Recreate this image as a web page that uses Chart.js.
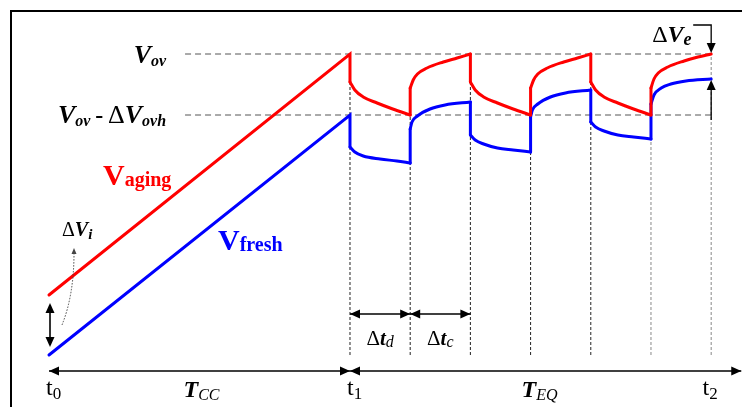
<!DOCTYPE html>
<html>
<head>
<meta charset="utf-8">
<script src="https://cdn.jsdelivr.net/npm/chart.js@4.4.0/dist/chart.umd.min.js"></script>
<style>
  html, body { margin: 0; padding: 0; background: #fff; }
  #wrap { width: 742px; height: 407px; position: relative; }
</style>
</head>
<body>
<div id="wrap"><canvas id="chart"></canvas></div>
<script>
// time marks: t0, t1, then one mark per dt_d / dt_c half-cycle up to t2
var tMarks = [0, 5, 6, 7, 8, 9, 10, 11];
var vOv = 3.01;   // V_ov
var vOvh = 2.40;  // V_ov - dV_ovh

// aging cell voltage: CC ramp then discharge / charge pulses
var agingRamp = [[0, 0.60], [5, 3.01]];
var agingCurves = [
  [[5, 2.73], [5.08, 2.65], [5.22, 2.58], [5.45, 2.52], [5.71, 2.46], [6, 2.40]],
  [[6, 2.67], [6.05, 2.75], [6.12, 2.81], [6.28, 2.87], [6.55, 2.93], [6.78, 2.97], [7, 3.01]],
  [[7, 2.73], [7.08, 2.65], [7.22, 2.58], [7.45, 2.52], [7.71, 2.46], [8, 2.40]],
  [[8, 2.67], [8.05, 2.75], [8.12, 2.81], [8.28, 2.87], [8.55, 2.93], [8.78, 2.97], [9, 3.01]],
  [[9, 2.73], [9.08, 2.65], [9.22, 2.58], [9.45, 2.52], [9.71, 2.46], [10, 2.40]],
  [[10, 2.67], [10.05, 2.76], [10.12, 2.82], [10.28, 2.88], [10.55, 2.94], [10.78, 2.98], [11, 3.01]]
];

// fresh cell voltage
var freshRamp = [[0, 0.00], [5, 2.40]];
var freshCurves = [
  [[5, 2.08], [5.08, 2.03], [5.22, 1.99], [5.5, 1.96], [5.78, 1.94], [6, 1.92]],
  [[6, 2.26], [6.03, 2.33], [6.12, 2.39], [6.33, 2.46], [6.58, 2.50], [7, 2.53]],
  [[7, 2.20], [7.08, 2.15], [7.22, 2.11], [7.45, 2.07], [7.71, 2.05], [8, 2.03]],
  [[8, 2.38], [8.03, 2.45], [8.12, 2.51], [8.33, 2.58], [8.58, 2.62], [9, 2.65]],
  [[9, 2.33], [9.08, 2.28], [9.22, 2.24], [9.45, 2.20], [9.71, 2.18], [10, 2.16]],
  [[10, 2.51], [10.05, 2.60], [10.17, 2.67], [10.33, 2.71], [10.58, 2.74], [11, 2.76]]
];

var RED = '#ff0000';
var BLUE = '#0000ff';
var SERIF = '"Liberation Serif", "DejaVu Serif", serif';

function pts(list) {
  return list.map(function(p) { return { x: p[0], y: p[1] }; });
}

function lineSet(data, color, smooth) {
  return {
    data: pts(data),
    borderColor: color,
    borderWidth: 3,
    pointRadius: 0,
    tension: 0,
    cubicInterpolationMode: smooth ? 'monotone' : 'default',
    borderCapStyle: 'round',
    borderJoinStyle: 'miter',
    fill: false,
    order: 0
  };
}

function refSet(data, color, dash) {
  return {
    data: pts(data),
    borderColor: color,
    borderWidth: 1,
    borderDash: dash,
    pointRadius: 0,
    tension: 0,
    fill: false,
    order: 5
  };
}

// ramp + curved pieces + the vertical jumps between them
function buildLine(ramp, curves, color) {
  var sets = [lineSet(ramp.concat([curves[0][0]]), color, false)];
  curves.forEach(function(c, i) {
    sets.push(lineSet(c, color, true));
    if (i < curves.length - 1) {
      sets.push(lineSet([c[c.length - 1], curves[i + 1][0]], color, false));
    }
  });
  return sets;
}

// lowest aging value at a time mark (top of the dotted marker)
function markTop(t) {
  var all = agingRamp.concat.apply(agingRamp, agingCurves);
  var top = null;
  all.forEach(function(p) {
    if (p[0] === t && (top === null || p[1] < top)) top = p[1];
  });
  return top;
}

var datasets = [];
datasets = datasets.concat(buildLine(agingRamp, agingCurves, RED));
datasets = datasets.concat(buildLine(freshRamp, freshCurves, BLUE));
datasets.push(refSet([[2.26, vOv], [11, vOv]], '#555', [6, 4]));
datasets.push(refSet([[2.26, vOvh], [11, vOvh]], '#555', [6, 4]));
tMarks.slice(1).forEach(function(t, i) {
  datasets.push(refSet([[t, 0], [t, markTop(t)]], i < 5 ? '#222' : '#888', [3, 2]));
});

function head(ctx, x, y, dx, dy, len, half) {
  ctx.beginPath();
  ctx.moveTo(x, y);
  ctx.lineTo(x - dx * len - dy * half, y - dy * len + dx * half);
  ctx.lineTo(x - dx * len + dy * half, y - dy * len - dx * half);
  ctx.closePath();
  ctx.fill();
}

function rich(ctx, parts, x, y, align) {
  var w = 0;
  parts.forEach(function(p) { ctx.font = p.font; w += ctx.measureText(p.text).width; });
  var cx = align === 'right' ? x - w : (align === 'center' ? x - w / 2 : x);
  parts.forEach(function(p) {
    ctx.font = p.font;
    ctx.fillStyle = p.color || '#000';
    ctx.fillText(p.text, cx, y + (p.dy || 0));
    cx += ctx.measureText(p.text).width;
  });
}

function f(style, size) { return style + ' ' + size + 'px ' + SERIF; }

var decor = {
  id: 'decor',
  beforeDraw: function(chart) {
    var ctx = chart.ctx;
    ctx.save();
    ctx.fillStyle = '#fff';
    ctx.fillRect(0, 0, chart.width, chart.height);
    ctx.restore();
  },
  afterDatasetsDraw: function(chart) {
    var ctx = chart.ctx;
    var xs = chart.scales.x, ys = chart.scales.y;
    var X = function(v) { return xs.getPixelForValue(v); };
    var Y = function(v) { return ys.getPixelForValue(v); };
    ctx.save();
    ctx.textBaseline = 'alphabetic';
    ctx.textAlign = 'left';

    // frame
    ctx.strokeStyle = '#000';
    ctx.lineWidth = 2;
    ctx.beginPath();
    ctx.moveTo(11, chart.height);
    ctx.lineTo(11, 11);
    ctx.lineTo(chart.width, 11);
    ctx.stroke();

    ctx.fillStyle = '#000';
    ctx.lineWidth = 1.6;

    // time axis
    var ya = Y(-0.16);
    ctx.beginPath();
    ctx.moveTo(X(0), ya);
    ctx.lineTo(X(11.5), ya);
    ctx.stroke();
    head(ctx, X(0), ya, -1, 0, 10, 4.5);
    head(ctx, X(5), ya, 1, 0, 10, 4.5);
    head(ctx, X(5), ya, -1, 0, 10, 4.5);
    head(ctx, X(11.5), ya, 1, 0, 10, 4.5);

    // dt_d, dt_c arrows
    var yd = Y(0.41);
    ctx.beginPath();
    ctx.moveTo(X(5), yd);
    ctx.lineTo(X(7), yd);
    ctx.stroke();
    head(ctx, X(5), yd, -1, 0, 10, 4.5);
    head(ctx, X(6), yd, 1, 0, 10, 4.5);
    head(ctx, X(6), yd, -1, 0, 10, 4.5);
    head(ctx, X(7), yd, 1, 0, 10, 4.5);

    // dV_i double arrow
    var xi = X(0) + 1;
    ctx.beginPath();
    ctx.moveTo(xi, Y(0.50));
    ctx.lineTo(xi, Y(0.10));
    ctx.stroke();
    head(ctx, xi, Y(0.52), 0, -1, 10, 4.5);
    head(ctx, xi, Y(0.08), 0, 1, 10, 4.5);

    // dotted pointer to dV_i label
    ctx.save();
    ctx.strokeStyle = '#444';
    ctx.fillStyle = '#444';
    ctx.lineWidth = 1;
    ctx.setLineDash([1.5, 1.5]);
    ctx.beginPath();
    ctx.moveTo(X(0) + 13, Y(0.30));
    ctx.quadraticCurveTo(X(0) + 25, Y(0.60), X(0) + 25, Y(1.02));
    ctx.stroke();
    ctx.setLineDash([]);
    head(ctx, X(0) + 25, Y(1.07), 0, -1, 6, 2.5);
    ctx.restore();

    // dV_e hook and arrows
    ctx.lineWidth = 1.3;
    ctx.beginPath();
    ctx.moveTo(X(11) - 18, Y(3.30));
    ctx.lineTo(X(11), Y(3.30));
    ctx.lineTo(X(11), Y(3.08));
    ctx.stroke();
    head(ctx, X(11), Y(3.01) - 1, 0, 1, 10, 4.5);
    ctx.beginPath();
    ctx.moveTo(X(11), Y(2.35));
    ctx.lineTo(X(11), Y(2.70));
    ctx.stroke();
    head(ctx, X(11), Y(2.76) + 1, 0, -1, 10, 4.5);

    // level labels
    rich(ctx, [
      { text: 'V', font: f('bold italic', 26) },
      { text: 'ov', font: f('bold italic', 16), dy: 3 }
    ], X(1.945), Y(vOv) + 9, 'right');
    rich(ctx, [
      { text: 'V', font: f('bold italic', 26) },
      { text: 'ov', font: f('bold italic', 16), dy: 3 },
      { text: '\u2009-\u2009', font: f('bold', 24) },
      { text: '\u0394', font: f('normal', 26) },
      { text: 'V', font: f('bold italic', 26) },
      { text: 'ovh', font: f('bold italic', 16), dy: 3 }
    ], X(1.945), Y(vOvh) + 8, 'right');

    // series labels
    rich(ctx, [
      { text: 'V', font: f('bold', 30), color: RED },
      { text: 'aging', font: f('bold', 20), color: RED, dy: 1 }
    ], 103, 185, 'left');
    rich(ctx, [
      { text: 'V', font: f('bold', 30), color: BLUE },
      { text: 'fresh', font: f('bold', 20), color: BLUE, dy: 1 }
    ], 218, 250, 'left');

    rich(ctx, [
      { text: '\u0394', font: f('normal', 20) },
      { text: 'V', font: f('bold italic', 20) },
      { text: 'i', font: f('bold italic', 15), dy: 3 }
    ], 62, 236, 'left');
    rich(ctx, [
      { text: '\u0394', font: f('normal', 24) },
      { text: 'V', font: f('bold italic', 24) },
      { text: 'e', font: f('bold italic', 18), dy: 3 }
    ], X(11) - 59, 42, 'left');

    // dt labels
    rich(ctx, [
      { text: '\u0394', font: f('normal', 21) },
      { text: 't', font: f('bold italic', 21) },
      { text: 'd', font: f('italic', 16), dy: 2 }
    ], X(5.5), Y(0.41) + 31, 'center');
    rich(ctx, [
      { text: '\u0394', font: f('normal', 21) },
      { text: 't', font: f('bold italic', 21) },
      { text: 'c', font: f('italic', 16), dy: 2 }
    ], X(6.5), Y(0.41) + 31, 'center');

    // time labels
    var tb = ya + 24;
    rich(ctx, [
      { text: 't', font: f('normal', 24) },
      { text: '0', font: f('normal', 17), dy: 4 }
    ], X(0) - 3, tb, 'left');
    rich(ctx, [
      { text: 't', font: f('normal', 24) },
      { text: '1', font: f('normal', 17), dy: 4 }
    ], X(5) - 3, tb, 'left');
    rich(ctx, [
      { text: 't', font: f('normal', 24) },
      { text: '2', font: f('normal', 17), dy: 4 }
    ], X(11) - 1, tb, 'center');
    rich(ctx, [
      { text: 'T', font: f('bold italic', 24) },
      { text: 'CC', font: f('italic', 16), dy: 3 }
    ], X(2.5) + 2, tb + 2, 'center');
    rich(ctx, [
      { text: 'T', font: f('bold italic', 24) },
      { text: 'EQ', font: f('italic', 16), dy: 3 }
    ], X(8) + 9, tb + 2, 'center');

    ctx.restore();
  }
};

new Chart(document.getElementById('chart'), {
  type: 'line',
  data: { datasets: datasets },
  options: {
    responsive: true,
    maintainAspectRatio: false,
    animation: false,
    events: [],
    layout: { padding: 0 },
    plugins: { legend: { display: false }, tooltip: { enabled: false } },
    scales: {
      x: { type: 'linear', display: false, min: -0.814, max: 11.512 },
      y: { type: 'linear', display: false, min: -0.52, max: 3.55 }
    }
  },
  plugins: [decor]
});
</script>
</body>
</html>
